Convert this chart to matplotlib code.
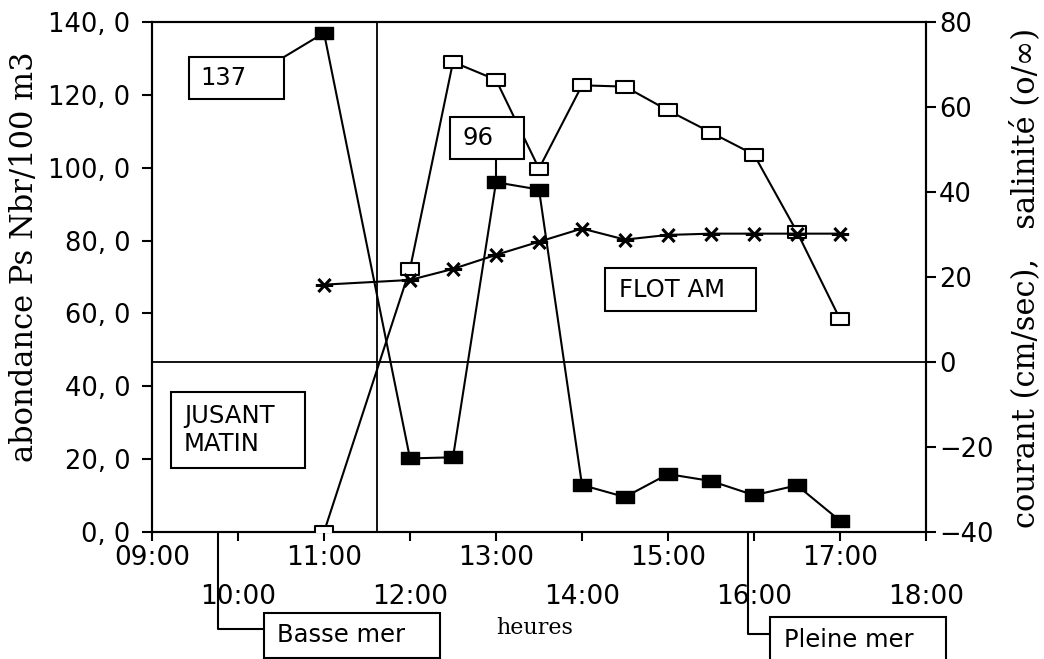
import matplotlib
matplotlib.use('Agg')
import matplotlib.pyplot as plt
from matplotlib.path import Path
from matplotlib.patches import Rectangle

# donnees
heures = ["11:00", "12:00", "12:30", "13:00", "13:30", "14:00",
          "14:30", "15:00", "15:30", "16:00", "16:30", "17:00"]
abondance = [137, 20.2, 20.5, 96, 94, 12.9, 9.6, 15.9, 14.0, 10.1, 12.8, 3.1]
courant = [-40, 21.9, 70.6, 66.4, 45.5, 65.1, 64.8, 59.2, 54.0, 48.8, 30.6, 10.1]
salinite = [18.2, 19.3, 21.9, 25.2, 28.3, 31.4, 28.8, 29.9, 30.2, 30.2, 30.2, 30.2]

heure_etale = "11:37"
heure_basse_mer = "09:46"
heure_pleine_mer = "15:56"

W, H = 1044, 659


def en_heures(texte):
    """Convertit 'HH:MM' en heures decimales."""
    h, m = texte.split(':')
    return int(h) + int(m) / 60


def px(x, y):
    """Position en pixels (depuis le haut) -> fraction de figure."""
    return (x / W, 1 - y / H)


def boite(x0, y0, x1, y1, texte, xt, yt):
    fig.patches.append(Rectangle(px(x0, y1), (x1 - x0) / W, (y1 - y0) / H,
                                 transform=fig.transFigure, facecolor='white',
                                 edgecolor='black', lw=1.5, zorder=5))
    fig.text(*px(xt, yt), texte, ha='left', va='center', fontsize=17.5,
             linespacing=1.25, zorder=6)


carre = Path([(-1, -0.7), (1, -0.7), (1, 0.7), (-1, 0.7), (-1, -0.7)],
             [Path.MOVETO, Path.LINETO, Path.LINETO, Path.LINETO, Path.CLOSEPOLY])
etoile = Path([(-1, 0), (1, 0), (-0.7, -0.75), (0.7, 0.75), (-0.7, 0.75), (0.7, -0.75)],
              [Path.MOVETO, Path.LINETO, Path.MOVETO, Path.LINETO, Path.MOVETO, Path.LINETO])

fig = plt.figure(figsize=(W / 100, H / 100), dpi=100)
ax = fig.add_axes([152 / W, 1 - 532 / H, (926 - 152) / W, (532 - 22) / H])
ax2 = ax.twinx()

x = [en_heures(h) for h in heures]

ax.plot(x, abondance, color='black', lw=1.5, marker=carre, markersize=12.5,
        markerfacecolor='black', zorder=4)
ax2.plot(x, courant, color='black', lw=1.5, marker=carre, markersize=12.5,
         markerfacecolor='white', markeredgewidth=1.5, zorder=4)
ax2.plot(x, salinite, color='black', lw=1.5, marker=etoile, markersize=12.5,
         markeredgewidth=2.2, zorder=4)

ax.axvline(en_heures(heure_etale), color='black', lw=1.3)
ax2.axhline(0, color='black', lw=1.3)

ax.set_xlim(9, 18)
ax.set_ylim(0, 140)
ax2.set_ylim(-40, 80)

ax.set_xticks([9, 11, 13, 15, 17])
ax.set_xticklabels(["%02d:00" % h for h in [9, 11, 13, 15, 17]])
ax.set_xticks([10, 12, 14, 16, 18], minor=True)
ax.set_xticklabels(["%02d:00" % h for h in [10, 12, 14, 16, 18]], minor=True)
ax.tick_params(axis='x', which='major', direction='out', length=6.5, width=1.5,
               labelsize=19, pad=3)
ax.tick_params(axis='x', which='minor', direction='out', length=6.5, width=1.5,
               labelsize=19, pad=31)

ax.set_yticks(range(0, 141, 20))
ax.set_yticklabels(["%d, 0" % v for v in range(0, 141, 20)])
ax.tick_params(axis='y', direction='out', length=7.5, width=1.5, labelsize=18.5, pad=8)
ax2.set_yticks(range(-40, 81, 20))
ax2.set_yticklabels([str(v).replace('-', '\u2212') for v in range(-40, 81, 20)])
ax2.tick_params(axis='y', direction='out', length=7.5, width=1.5, labelsize=18.5, pad=2)

for a in (ax, ax2):
    for s in a.spines.values():
        s.set_linewidth(1.5)

ax.set_ylabel("abondance Ps Nbr/100 m3", family='DejaVu Serif', fontsize=22)
ax.yaxis.set_label_coords(-0.145, 0.539)
ax2.set_ylabel("courant (cm/sec),   salinit\u00e9 (o/\u221e)", family='DejaVu Serif',
               fontsize=22, rotation=90)
ax2.yaxis.set_label_coords(1.108, 0.498)
fig.text(*px(535, 628), "heures", family='DejaVu Serif', fontsize=16,
         ha='center', va='center')

# boites de commentaires
boite(189, 57, 284, 99, "137", 200, 78)
boite(450, 117, 524, 159, "96", 462, 138)
boite(605, 268, 756, 311, "FLOT AM", 619, 290)
boite(171, 392, 305, 468, "JUSANT\nMATIN", 184, 430)
boite(264, 613, 440, 658, "Basse mer", 277, 635)
boite(770, 617, 946, 668, "Pleine mer", 784, 640)

trait = dict(arrowstyle='-', lw=1.5, color='black', shrinkA=0, shrinkB=0)
ax.annotate('', xy=(x[0], abondance[0]), xytext=px(284, 57),
            textcoords='figure fraction', arrowprops=trait)
ax.annotate('', xy=(x[3], abondance[3]), xytext=px(496, 159),
            textcoords='figure fraction', arrowprops=trait)
coude = dict(trait, connectionstyle='angle,angleA=0,angleB=90,rad=0')
ax.annotate('', xy=(en_heures(heure_basse_mer), 0), xytext=px(264, 629),
            textcoords='figure fraction', arrowprops=coude, annotation_clip=False)
ax.annotate('', xy=(en_heures(heure_pleine_mer), 0), xytext=px(770, 634),
            textcoords='figure fraction', arrowprops=coude, annotation_clip=False)

plt.savefig('out.png', dpi=100)
